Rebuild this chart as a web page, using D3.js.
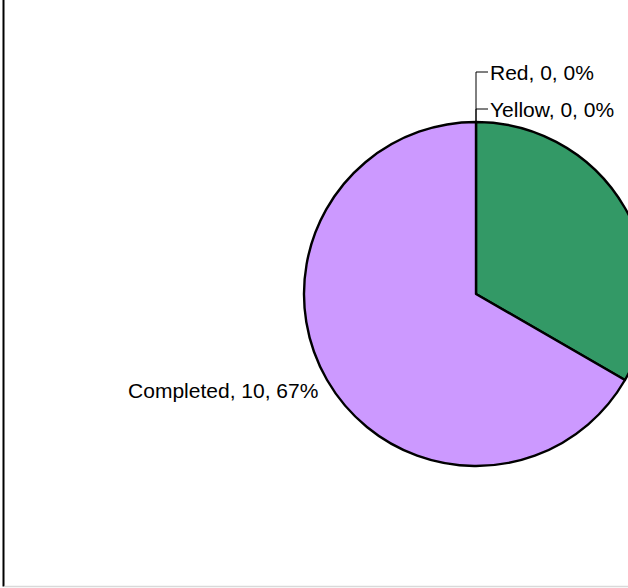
<!DOCTYPE html>
<html>
<head>
<meta charset="utf-8">
<script src="https://cdn.jsdelivr.net/npm/d3@7/dist/d3.min.js"></script>
<style>
html,body{margin:0;padding:0;background:#fff;overflow:hidden;}
svg{display:block;}
text{font-family:"Liberation Sans",Arial,sans-serif;font-size:21px;fill:#000;}
</style>
</head>
<body>
<svg id="chart" width="628" height="588"></svg>
<script>
const categories = ["Red", "Yellow", "Green", "Completed"];
const values = [0, 0, 5, 10];
const colors = ["#ff0000", "#ffff00", "#339966", "#cc99ff"];

const W = 628, H = 588;
const cx = 476, cy = 294, R = 172;
const svg = d3.select("#chart");

// frame
svg.append("line").attr("x1", 3.5).attr("x2", 3.5).attr("y1", 0).attr("y2", 586.5)
  .attr("stroke", "#000").attr("stroke-width", 2);
svg.append("line").attr("x1", 4.5).attr("x2", W).attr("y1", 586.5).attr("y2", 586.5)
  .attr("stroke", "#d9d9d9").attr("stroke-width", 1.5);

const total = d3.sum(values);
const data = categories.map((c, i) => ({ name: c, value: values[i], color: colors[i] }));
const pie = d3.pie().value(d => d.value).sort(null);
const arcs = pie(data);
const arc = d3.arc().innerRadius(0).outerRadius(R);
const labelArc = d3.arc().innerRadius(R + 10).outerRadius(R + 10);

const g = svg.append("g").attr("transform", `translate(${cx},${cy})`);
g.selectAll("path.slice").data(arcs.filter(a => a.value > 0)).join("path")
  .attr("class", "slice")
  .attr("d", arc)
  .attr("fill", d => d.data.color)
  .attr("stroke", "#000")
  .attr("stroke-width", 2.4)
  .attr("stroke-linejoin", "round");

const pct = v => Math.round(v / total * 100) + "%";
const labelText = d => `${d.data.name}, ${d.value}, ${pct(d.value)}`;

// zero-value slices: stacked labels with leader lines above their angle
const zeroArcs = arcs.filter(a => a.value === 0);
const zeroGap = 37;
zeroArcs.forEach((a, k) => {
  const ax = R * Math.sin(a.startAngle), ay = -R * Math.cos(a.startAngle);
  const ly = ay - 50 + k * zeroGap;
  g.append("path")
    .attr("d", `M${ax},${ay}V${ly}H${ax + 12}`)
    .attr("fill", "none").attr("stroke", "#000").attr("stroke-width", 1);
  g.append("text").attr("x", ax + 14).attr("y", ly + 7.5).text(labelText(a));
});

// non-zero slice labels (the right-hand one falls outside the visible area, as in the reference)
arcs.filter(a => a.value > 0).forEach(a => {
  const [x, y] = labelArc.centroid(a);
  const mid = (a.startAngle + a.endAngle) / 2;
  const left = mid > Math.PI;
  g.append("text")
    .attr("x", left ? x : x + 20)
    .attr("y", y + 13)
    .attr("text-anchor", left ? "end" : "start")
    .text(labelText(a));
});
</script>
</body>
</html>
